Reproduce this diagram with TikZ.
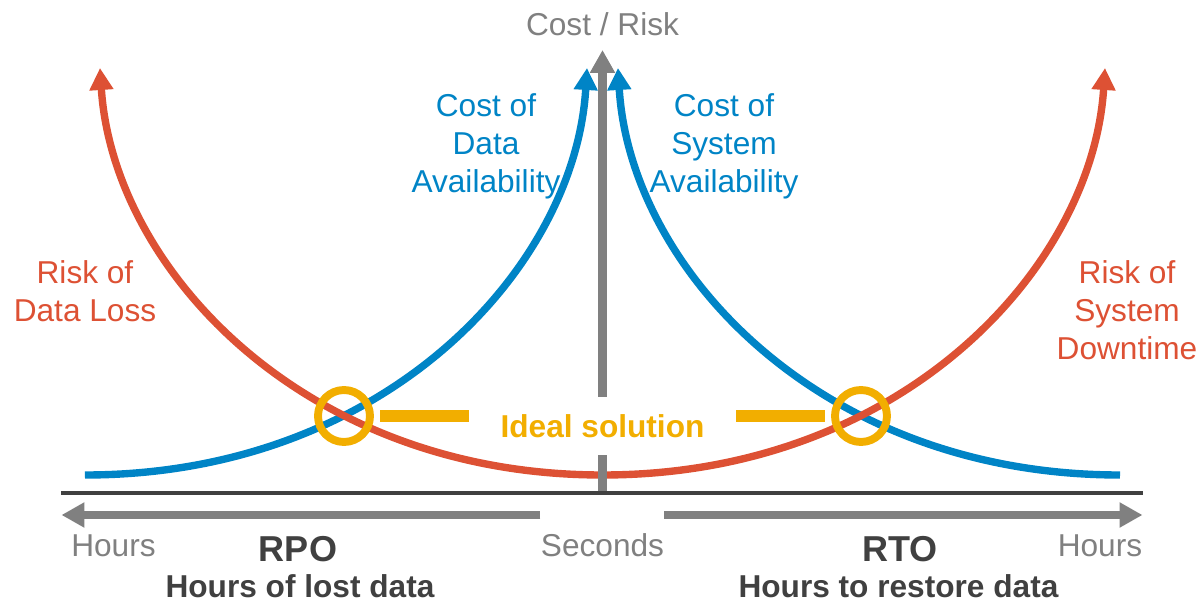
\documentclass[tikz,border=0pt]{standalone}
\usepackage{fontspec}
\setmainfont{Liberation Sans}
\usepackage{tikz}
\usetikzlibrary{arrows.meta}

\definecolor{riskred}{RGB}{221,81,52}
\definecolor{costblue}{RGB}{0,132,198}
\definecolor{idealorange}{RGB}{242,174,0}
\definecolor{axisgray}{RGB}{128,128,128}
\definecolor{axisdark}{RGB}{64,64,64}

\begin{document}
\begin{tikzpicture}[
    costcurve/.style={line width=4.2pt, -{Triangle[width=13pt,length=12.5pt]}},
    grayarrow/.style={axisgray, line width=4.8pt, -{Triangle[width=13.5pt,length=13pt]}},
    curvetext/.style={align=center, anchor=base, font=\fontsize{18}{21.8}\selectfont},
    boldtext/.style={anchor=base, text=axisdark, font=\bfseries\fontsize{18}{21.8}\selectfont},
    ringmark/.style={circle, draw=idealorange, line width=4.5pt, minimum size=1.04cm, inner sep=0pt},
    idealbar/.style={idealorange, line width=6.8pt},
    ]
    \useasboundingbox (-12.05,-2.2) rectangle (11.87,9.86);

    % cost and risk curves
    \draw[costcurve, costblue] (-10.35,0.36) .. controls (-4.35,0.36) and (-0.55,4.5) .. (-0.31,8.5);
    \draw[costcurve, costblue] (10.35,0.36) .. controls (4.35,0.36) and (0.55,4.5) .. (0.31,8.5);
    \draw[costcurve, riskred, {Triangle[width=13pt,length=12.5pt]}-{Triangle[width=13pt,length=12.5pt]}]
        (-10.05,8.5) .. controls (-9.79,4.5) and (-5.99,0.36) .. (0,0.36)
        .. controls (5.99,0.36) and (9.79,4.5) .. (10.05,8.5);

    % axes
    \draw[grayarrow] (0,0) -- (0,8.86);
    \draw[grayarrow] (-1.24,-0.44) -- (-10.82,-0.44);
    \draw[grayarrow] (1.24,-0.44) -- (10.8,-0.44);
    \draw[axisdark, line width=2.3pt] (-10.82,0) -- (10.8,0);

    % ideal solution
    \node[ringmark] (rpoc) at (-5.17,1.54) {};
    \node[ringmark] (rtoc) at (5.17,1.54) {};
    \node[text=idealorange, fill=white, font=\bfseries\fontsize{18}{21.8}\selectfont,
        minimum height=1.16cm, inner xsep=0.62cm] (ideal) at (0,1.34) {Ideal solution};
    \draw[idealbar] ([xshift=0.13cm]rpoc.east) -- (ideal.west |- rpoc.east);
    \draw[idealbar] ([xshift=-0.13cm]rtoc.west) -- (ideal.east |- rtoc.west);

    % labels (base = last line)
    \node[curvetext, text=axisgray] (costrisk) at (0,9.14) {Cost / Risk};
    \node[curvetext, text=costblue] (dataavail) at (-2.33,6.0) {Cost of\\Data\\Availability};
    \node[curvetext, text=costblue] (sysavail) at (2.43,6.0) {Cost of\\System\\Availability};
    \node[curvetext, text=riskred] (dataloss) at (-10.35,3.43) {Risk of\\Data Loss};
    \node[curvetext, text=riskred] (downtime) at (10.49,2.66) {Risk of\\System\\Downtime};

    \node[curvetext, text=axisgray] (hoursl) at (-9.78,-1.26) {Hours};
    \node[curvetext, text=axisgray] (seconds) at (0,-1.26) {Seconds};
    \node[curvetext, text=axisgray] (hoursr) at (9.95,-1.26) {Hours};

    \node[boldtext, font=\bfseries\fontsize{20.5}{24}\selectfont] (rpo) at (-6.09,-1.37) {RPO};
    \node[boldtext] (lostdata) at (-6.05,-2.08) {Hours of lost data};
    \node[boldtext, font=\bfseries\fontsize{20.5}{24}\selectfont] (rto) at (5.95,-1.37) {RTO};
    \node[boldtext] (restore) at (5.92,-2.08) {Hours to restore data};
\end{tikzpicture}
\end{document}
